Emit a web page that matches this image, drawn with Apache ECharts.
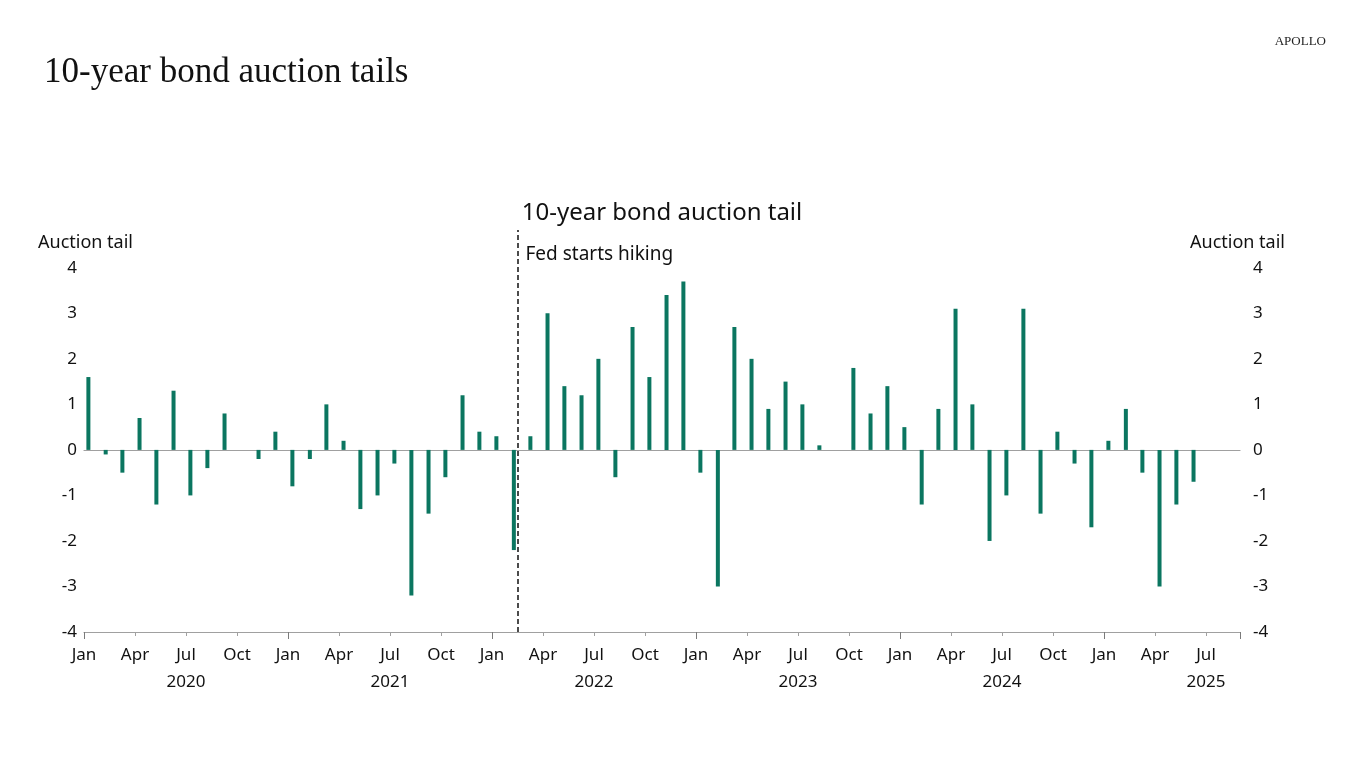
<!DOCTYPE html>
<html>
<head>
<meta charset="utf-8">
<script src="https://cdn.jsdelivr.net/npm/echarts@6/dist/echarts.min.js"></script>
<style>
html,body{margin:0;padding:0;background:#fff;}
#chart{width:1366px;height:768px;}
</style>
</head>
<body>
<div id="chart"></div>
<script>
// ---- data ----
const startYear = 2020;
const monthNames = ['Jan','Feb','Mar','Apr','May','Jun','Jul','Aug','Sep','Oct','Nov','Dec'];
const tickMonthLabels = ['Jan','Apr','Jul','Oct'];
const yearLabels = ['2020','2021','2022','2023','2024','2025'];
// monthly 10-year auction tails, Jan 2020 .. Jun 2025
const tails2020 = [1.6, -0.1, -0.5, 0.7, -1.2, 1.3, -1.0, -0.4, 0.8, 0, -0.2, 0.4];
const tails2021 = [-0.8, -0.2, 1.0, 0.2, -1.3, -1.0, -0.3, -3.2, -1.4, -0.6, 1.2, 0.4];
const tails2022 = [0.3, -2.2, 0.3, 3.0, 1.4, 1.2, 2.0, -0.6, 2.7, 1.6, 3.4, 3.7];
const tails2023 = [-0.5, -3.0, 2.7, 2.0, 0.9, 1.5, 1.0, 0.1, 0, 1.8, 0.8, 1.4];
const tails2024 = [0.5, -1.2, 0.9, 3.1, 1.0, -2.0, -1.0, 3.1, -1.4, 0.4, -0.3, -1.7];
const tails2025 = [0.2, 0.9, -0.5, -3.0, -1.2, -0.7];
const auctionDay = 9;            // auctions held around the 9th of each month
const fedHikeDate = '2022-02-15'; // position of the dashed marker
const yTicks = [-4, -3, -2, -1, 0, 1, 2, 3, 4];

// ---- build ----
const allTails = [].concat(tails2020, tails2021, tails2022, tails2023, tails2024, tails2025);
function monthPos(y, m, d) { // fractional months since Jan 2020
  const dim = new Date(y, m, 0).getDate();
  return (y - startYear) * 12 + (m - 1) + (d - 1) / dim;
}
const barData = allTails.map((v, i) => {
  const y = startYear + Math.floor(i / 12), m = (i % 12) + 1;
  return { value: [monthPos(y, m, auctionDay), v], name: monthNames[i % 12] + ' ' + y };
});
const fp = fedHikeDate.split('-').map(Number);
const fedX = monthPos(fp[0], fp[1], fp[2]);

const sans = 'Noto Sans';
const chart = echarts.init(document.getElementById('chart'));
const isInt = v => Math.abs(v - Math.round(v)) < 1e-6;
const yFmt = v => (isInt(v) && yTicks.indexOf(Math.round(v)) >= 0) ? String(Math.round(v)) : '';

chart.setOption({
  backgroundColor: '#fff',
  animation: false,
  title: [
    { text: '10-year bond auction tails', left: 39, top: 50,
      textStyle: { fontFamily: 'Liberation Serif', fontSize: 35, fontWeight: 'normal', color: '#111' } },
    { text: 'APOLLO', right: 35, top: 30,
      textStyle: { fontFamily: 'Liberation Serif', fontSize: 13, fontWeight: 'normal', color: '#222' } },
    { text: '10-year bond auction tail', left: 657, top: 196, textAlign: 'center',
      textStyle: { fontFamily: sans, fontSize: 24, fontWeight: 'normal', color: '#111' } },
    { text: 'Auction tail', left: 33, top: 229,
      textStyle: { fontFamily: sans, fontSize: 18, fontWeight: 'normal', color: '#111' } },
    { text: 'Auction tail', right: 76, top: 229,
      textStyle: { fontFamily: sans, fontSize: 18, fontWeight: 'normal', color: '#111' } }
  ],
  grid: { left: 84, right: 126, top: 230, bottom: 136, containLabel: false },
  xAxis: [
    { type: 'value', min: 0, max: 68, interval: 3, position: 'bottom',
      axisLine: { onZero: false, lineStyle: { color: '#a0a0a0', width: 1.2 } },
      axisTick: { show: true, length: 4, lineStyle: { color: '#a0a0a0' } },
      splitLine: { show: false },
      axisLabel: { margin: 10, fontFamily: sans, fontSize: 17, color: '#111', lineHeight: 27,
        verticalAlign: 'top',
        formatter: v => {
          const q = Math.round(v) % 12;
          const lab = tickMonthLabels[q / 3];
          if (v >= 68) return '';
          if (q === 6) return lab + '\n' + yearLabels[Math.floor(v / 12)];
          return lab;
        } } },
    { type: 'value', min: 0, max: 68, interval: 12, position: 'bottom',
      axisLine: { show: false, onZero: false },
      axisTick: { show: true, length: 7, lineStyle: { color: '#7a7a7a' } },
      axisLabel: { show: false }, splitLine: { show: false } },
    { type: 'value', min: 0, max: 68, position: 'bottom',
      axisLine: { show: true, onZero: true, lineStyle: { color: '#a0a0a0', width: 1.2 } },
      axisTick: { show: false }, axisLabel: { show: false }, splitLine: { show: false } }
  ],
  yAxis: [
    { type: 'value', min: yTicks[0], max: 4.83, interval: 1, position: 'left',
      axisLine: { show: false }, axisTick: { show: false }, splitLine: { show: false },
      axisLabel: { margin: 7, fontFamily: sans, fontSize: 17, color: '#111', formatter: yFmt } },
    { type: 'value', min: yTicks[0], max: 4.83, interval: 1, position: 'right',
      axisLine: { show: false }, axisTick: { show: false }, splitLine: { show: false },
      axisLabel: { margin: 13, fontFamily: sans, fontSize: 17, color: '#111', formatter: yFmt } }
  ],
  series: [
    { type: 'bar', name: '10-year bond auction tail', xAxisIndex: 0, yAxisIndex: 0,
      data: barData, barWidth: 4, itemStyle: { color: '#0b7660' },
      markLine: { silent: true, symbol: 'none', label: { show: false },
        lineStyle: { type: [5, 3], color: '#111', width: 1.5 },
        data: [{ xAxis: fedX }] },
      markPoint: { silent: true, symbol: 'circle', symbolSize: 0,
        label: { show: true, position: 'right', distance: 8, formatter: 'Fed starts hiking',
          fontFamily: sans, fontSize: 19, color: '#111' },
        data: [{ coord: [fedX, 4.28] }] } }
  ]
});
</script>
</body>
</html>
